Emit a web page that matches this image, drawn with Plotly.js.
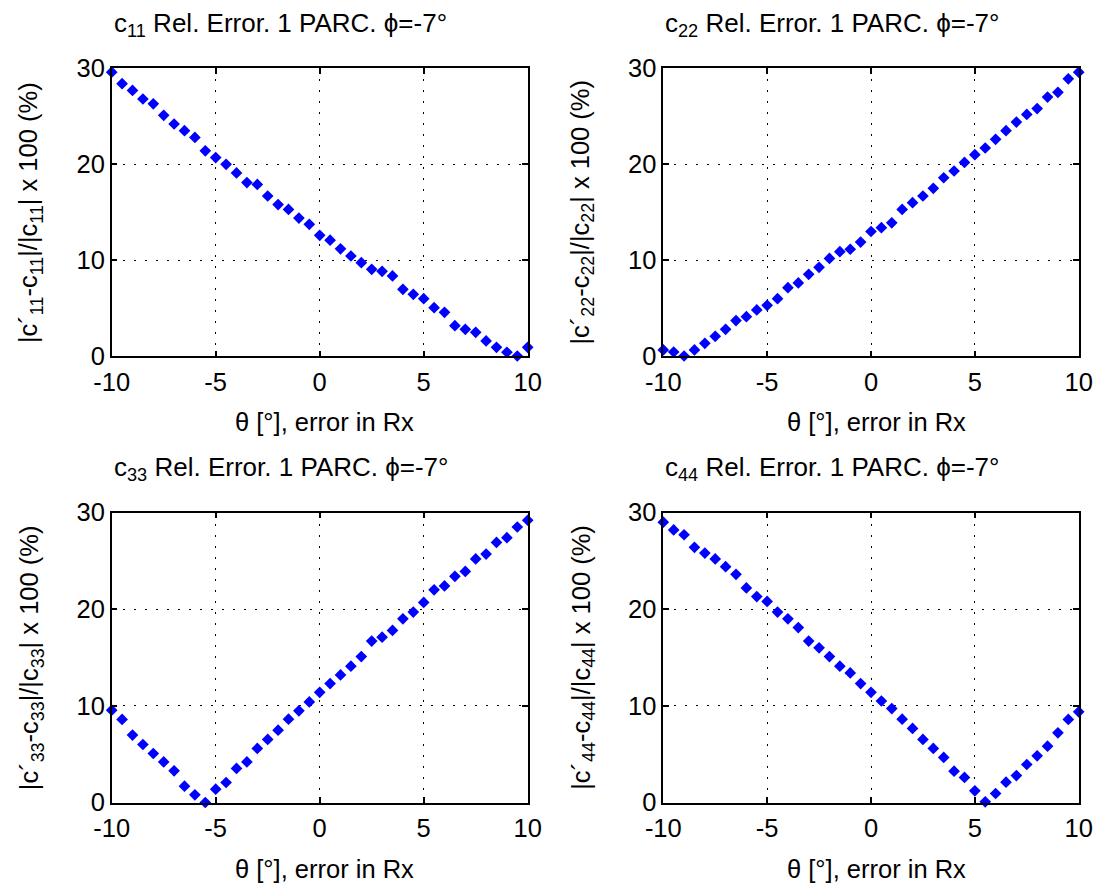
<!DOCTYPE html>
<html>
<head>
<meta charset="utf-8">
<script src="https://cdn.plot.ly/plotly-3.0.1.min.js"></script>
<style>html,body{margin:0;padding:0;background:#fff;}#chart{width:1102px;height:894px;}</style>
</head>
<body>
<div id="chart"></div>
<script>
// ---- data ----
const theta = [-10,-9.5,-9,-8.5,-8,-7.5,-7,-6.5,-6,-5.5,-5,-4.5,-4,-3.5,-3,-2.5,-2,-1.5,-1,-0.5,0,
               0.5,1,1.5,2,2.5,3,3.5,4,4.5,5,5.5,6,6.5,7,7.5,8,8.5,9,9.5,10];
const c11Err = [29.6,28.4,27.7,26.8,26.3,25.1,24.2,23.5,22.8,21.4,20.7,20.0,19.1,18.1,17.9,16.7,15.8,15.3,14.4,13.75,12.6,
                12.1,11.2,10.45,9.75,9.06,8.85,8.37,6.98,6.46,6.0,5.07,4.58,3.19,2.81,2.5,1.6,0.94,0.42,0.03,0.94];
const c22Err = [0.66,0.45,0.03,0.66,1.35,2.08,2.81,3.72,4.13,4.83,5.31,6.0,7.15,7.64,8.54,9.27,10.2,10.9,11.15,11.9,13.0,
                13.4,13.9,15.3,16.0,16.7,17.5,18.6,19.3,20.2,21.0,21.7,22.6,23.5,24.4,25.2,25.8,27.0,27.5,28.9,29.6];
const c33Err = [9.55,8.59,6.97,6.0,5.07,4.2,3.28,1.69,0.79,0.0,1.38,2.07,3.52,4.2,5.59,6.52,7.48,8.62,9.48,10.4,11.4,
                12.3,13.2,14.1,15.1,16.7,17.1,17.8,19.0,19.7,20.7,22.0,22.4,23.4,23.9,25.2,25.7,26.9,27.4,28.5,29.2];
const c44Err = [29.0,28.2,27.7,26.4,25.8,25.2,24.4,23.6,22.2,21.3,20.8,19.7,19.0,18.1,16.7,16.0,15.1,14.1,13.4,12.3,11.4,
                10.5,9.72,8.62,7.66,6.52,5.59,4.66,3.24,2.59,1.21,0.07,0.93,2.1,2.79,3.93,4.83,5.83,7.21,8.59,9.38];
const xTickVals = [-10,-5,0,5,10];
const xTickText = ['-10','-5','0','5','10'];
const yTickVals = [0,10,20,30];
const yTickText = ['0','10','20','30'];
const subs = ['11','22','33','44'];
const titleTxt = s => 'c<sub>' + s + '</sub> Rel. Error. 1 PARC. \u03D5=-7°';
const yTitleTxt = s => '|c\u00B4<sub>' + s + '</sub>-c<sub>' + s + '</sub>|/|c<sub>' + s + '</sub>| x 100 (%)';
const xTitleTxt = '\u03B8 [°], error in Rx';

// ---- layout ----
const W = 1102, H = 894;
const px = v => v / W;
const py = v => 1 - v / H;
const FONT = 'Liberation Sans, Arial, Helvetica, sans-serif';
const FS = 25.5;

// pixel boxes of the four axes: [left, right, top, bottom]
const boxes = [[111.7,527.7,68.3,356.3],[663.3,1078.7,68.3,356.3],[111.7,527.7,512.5,802.5],[663.3,1078.7,512.5,802.5]];
const series = [c11Err, c22Err, c33Err, c44Err];

const data = [];
const layout = {
  width: W, height: H,
  margin: {l:0, r:0, t:0, b:0},
  paper_bgcolor: '#fff', plot_bgcolor: '#fff',
  showlegend: false,
  font: {family: FONT, size: FS, color: '#000'},
  annotations: []
};

boxes.forEach((b, i) => {
  const n = i === 0 ? '' : String(i + 1);
  data.push({
    x: theta, y: series[i], type: 'scatter', mode: 'markers',
    xaxis: 'x' + n, yaxis: 'y' + n, cliponaxis: false,
    marker: {symbol: 'diamond', size: 9, color: '#0000FF', line: {width: 0}}
  });
  const common = {
    showline: true, mirror: 'ticks', linecolor: '#000', linewidth: 1.5,
    ticks: 'inside', ticklen: 6, tickwidth: 1.5, tickcolor: '#000',
    showgrid: true, gridcolor: '#000', gridwidth: 1.4, griddash: '2px,9px',
    zeroline: false, tickfont: {family: FONT, size: FS, color: '#000'}, fixedrange: true
  };
  layout['xaxis' + n] = Object.assign({}, common, {
    domain: [px(b[0]), px(b[1])], range: [-10, 10], anchor: 'y' + n,
    tickmode: 'array', tickvals: xTickVals, ticktext: xTickText, ticklabelstandoff: 2
  });
  layout['yaxis' + n] = Object.assign({}, common, {
    domain: [py(b[3]), py(b[2])], range: [0, 30], anchor: 'x' + n,
    tickmode: 'array', tickvals: yTickVals, ticktext: yTickText, ticklabelstandoff: 0
  });
  const cx = (b[0] + b[1]) / 2;
  // title
  layout.annotations.push({
    xref: 'paper', yref: 'paper', x: px(cx - 39), y: py(b[2] - 44), xanchor: 'center', yanchor: 'middle',
    text: titleTxt(subs[i]), showarrow: false, font: {family: FONT, size: 26, color: '#000'}
  });
  // x title
  layout.annotations.push({
    xref: 'paper', yref: 'paper', x: px(cx + 5), y: py(b[3] + 66), xanchor: 'center', yanchor: 'middle',
    text: xTitleTxt, showarrow: false, font: {family: FONT, size: FS, color: '#000'}
  });
  // y title
  layout.annotations.push({
    xref: 'paper', yref: 'paper', x: px(b[0] - 81), y: py((b[2] + b[3]) / 2), xanchor: 'center', yanchor: 'middle',
    textangle: -90, text: yTitleTxt(subs[i]), showarrow: false, font: {family: FONT, size: FS, color: '#000'}
  });
});

Plotly.newPlot('chart', data, layout, {displayModeBar: false});
</script>
</body>
</html>
